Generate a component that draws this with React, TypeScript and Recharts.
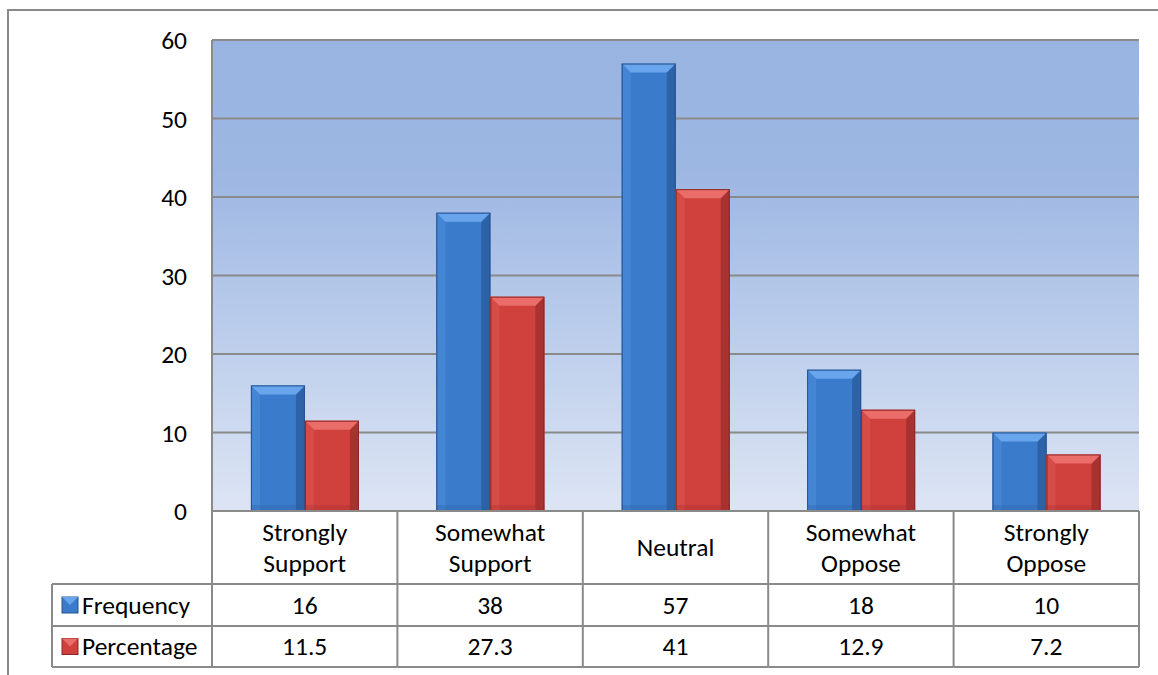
import { Bar, BarChart, CartesianGrid, XAxis, YAxis } from "recharts"

const categories = ["Strongly Support", "Somewhat Support", "Neutral", "Somewhat Oppose", "Strongly Oppose"]
const frequency = [16, 38, 57, 18, 10]
const percentage = [11.5, 27.3, 41, 12.9, 7.2]
const yTicks = [0, 10, 20, 30, 40, 50, 60]
const seriesNames = ["Frequency", "Percentage"]

const data = categories.map((name, i) => ({ name, frequency: frequency[i], percentage: percentage[i] }))

const W = 1158
const H = 675
const PLOT_LEFT = 212
const PLOT_RIGHT = 1139
const PLOT_BOTTOM = 511
const BAND = (PLOT_RIGHT - PLOT_LEFT) / categories.length
const ROW1 = 584
const ROW2 = 626
const TABLE_BOTTOM = 667
const LEGEND_LEFT = 52
const FONT = "Carlito, Lato, sans-serif"
const FS = 25.5
const LINE = "#8a8a8a"

type Tone = { body: string; light: string; side: string; dark: string; edge: string }
const blue: Tone = { body: "#3b7bcb", light: "#68a5ec", side: "#4485d4", dark: "#2d62a6", edge: "#25528f" }
const red: Tone = { body: "#d0403d", light: "#ea6d69", side: "#d64c49", dark: "#a83230", edge: "#8c2826" }

function bevelBar(t: Tone) {
  return (props: any) => {
    const { x, y, width: w, height: h } = props
    if (!h || h <= 0) return <g />
    const b = Math.min(9, w / 4, h / 2)
    return (
      <g>
        <rect x={x} y={y} width={w} height={h} fill={t.body} />
        <polygon points={`${x},${y} ${x + b},${y + b} ${x + b},${y + h} ${x},${y + h}`} fill={t.side} />
        <polygon points={`${x + w},${y} ${x + w},${y + h} ${x + w - b},${y + h} ${x + w - b},${y + b}`} fill={t.dark} />
        <polygon points={`${x},${y} ${x + w},${y} ${x + w - b},${y + b} ${x + b},${y + b}`} fill={t.light} />
        <rect x={x} y={y + h - 6} width={w} height={6} fill={t.dark} opacity={0.35} />
        <rect x={x + 0.5} y={y + 0.5} width={w - 1} height={h - 1} fill="none" stroke={t.edge} strokeWidth={1} />
      </g>
    )
  }
}

function Marker({ x, cy, t }: { x: number; cy: number; t: Tone }) {
  const s = 16
  const y = cy - s / 2
  return (
    <g>
      <rect x={x} y={y} width={s} height={s} fill={t.body} stroke={t.edge} strokeWidth={1} />
      <polygon points={`${x},${y} ${x + s},${y} ${x + s / 2},${y + s / 2}`} fill={t.light} />
    </g>
  )
}

const txt = { fontFamily: FONT, fontSize: FS, fill: "#000" }

function TableTick(props: any) {
  const { x, payload } = props
  const i = payload.index
  const left = x - BAND / 2
  const right = x + BAND / 2
  const words = String(payload.value).split(" ")
  const mid = (PLOT_BOTTOM + ROW1) / 2
  const r1 = (ROW1 + ROW2) / 2
  const r2 = (ROW2 + TABLE_BOTTOM) / 2
  return (
    <g>
      {words.map((w, k) => (
        <text key={k} x={x} y={mid + (k - (words.length - 1) / 2) * 31} textAnchor="middle" dominantBaseline="central" {...txt}>
          {w}
        </text>
      ))}
      <text x={x} y={r1} textAnchor="middle" dominantBaseline="central" {...txt}>{String(frequency[i])}</text>
      <text x={x} y={r2} textAnchor="middle" dominantBaseline="central" {...txt}>{String(percentage[i])}</text>
      <line x1={right} x2={right} y1={PLOT_BOTTOM} y2={TABLE_BOTTOM} stroke={LINE} strokeWidth={2} />
      {[ROW1, ROW2, TABLE_BOTTOM].map((yy) => (
        <line key={yy} x1={i === 0 ? LEGEND_LEFT : left} x2={right} y1={yy} y2={yy} stroke={LINE} strokeWidth={2} />
      ))}
      {i === 0 && (
        <g>
          <line x1={left} x2={left} y1={PLOT_BOTTOM} y2={TABLE_BOTTOM} stroke={LINE} strokeWidth={2} />
          <line x1={LEGEND_LEFT} x2={LEGEND_LEFT} y1={ROW1} y2={TABLE_BOTTOM} stroke={LINE} strokeWidth={2} />
          <Marker x={62} cy={r1} t={blue} />
          <Marker x={62} cy={r2} t={red} />
          <text x={82} y={r1} dominantBaseline="central" {...txt}>{seriesNames[0]}</text>
          <text x={82} y={r2} dominantBaseline="central" {...txt}>{seriesNames[1]}</text>
        </g>
      )}
    </g>
  )
}

export default function App() {
  return (
    <div style={{ position: "absolute", left: 0, top: 0, width: W, height: H, background: "#fff", overflow: "hidden" }}>
      <svg width={0} height={0} style={{ position: "absolute" }}>
        <defs>
          <linearGradient id="plotBg" x1="0" y1="0" x2="0" y2="1">
            <stop offset="0%" stopColor="#9ab4e2" />
            <stop offset="28%" stopColor="#9db7e3" />
            <stop offset="100%" stopColor="#dde5f4" />
          </linearGradient>
        </defs>
      </svg>
      <div style={{ position: "absolute", left: 7, top: 9, width: W, height: H, borderLeft: `2px solid ${LINE}`, borderTop: `2px solid ${LINE}` }} />
      <div style={{ position: "absolute", left: 0, top: 0 }}>
        <BarChart width={W} height={H} data={data} margin={{ top: 40, right: W - PLOT_RIGHT, left: 0, bottom: 0 }} barCategoryGap="21%" barGap={0}>
          <CartesianGrid vertical={false} stroke={LINE} strokeWidth={2} fill="url(#plotBg)" fillOpacity={1} />
          <XAxis dataKey="name" height={H - PLOT_BOTTOM} interval={0} tickLine={false} axisLine={{ stroke: LINE, strokeWidth: 2 }} tick={<TableTick />} />
          <YAxis width={PLOT_LEFT} domain={[0, 60]} ticks={yTicks} tickLine={false} tickMargin={19} axisLine={{ stroke: LINE, strokeWidth: 2 }} tick={txt} />
          <Bar dataKey="frequency" name={seriesNames[0]} isAnimationActive={false} shape={bevelBar(blue)} />
          <Bar dataKey="percentage" name={seriesNames[1]} isAnimationActive={false} shape={bevelBar(red)} />
        </BarChart>
      </div>
    </div>
  )
}
